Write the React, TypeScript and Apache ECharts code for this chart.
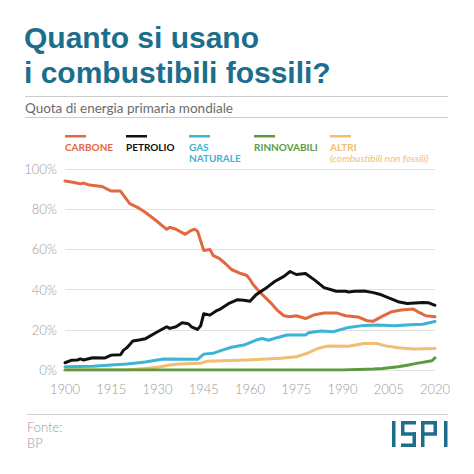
import React, { useEffect, useRef } from "react";
import * as echarts from "echarts";

const TITLE_LINES = ["Quanto si usano", "i combustibili fossili?"];
const SUBTITLE = "Quota di energia primaria mondiale";
const SOURCE_LINES = ["Fonte:", "BP"];

const X_TICKS = [1900, 1915, 1930, 1945, 1960, 1975, 1990, 2005, 2020];
const Y_TICKS = [0, 20, 40, 60, 80, 100];

const carboneYears = [1900, 1903, 1905, 1906, 1908, 1912, 1915, 1918, 1921, 1924, 1926, 1929, 1933, 1934, 1936, 1939, 1941, 1942, 1943, 1945, 1947, 1948, 1950, 1952, 1954, 1957, 1959, 1960, 1961, 1963, 1965, 1967, 1969, 1971, 1973, 1975, 1978, 1981, 1984, 1988, 1991, 1995, 1998, 2000, 2003, 2006, 2009, 2013, 2015, 2017, 2020];
const carboneValues = [94, 93.3, 92.6, 93, 92, 91.3, 89, 89, 82.8, 80.5, 78.5, 75, 70, 71, 70, 67.5, 69.5, 70, 69, 59.5, 60, 57, 55.5, 53, 50, 48, 47, 45, 42.5, 39, 36, 33, 29.5, 27, 26.5, 27, 25.6, 27.5, 28.4, 28.4, 27, 26.4, 24.5, 24.3, 26.8, 29, 29.8, 30.3, 28.5, 27, 26.5];

const petrolioYears = [1900, 1902, 1904, 1905, 1906, 1909, 1913, 1915, 1918, 1919, 1920, 1922, 1924, 1926, 1930, 1933, 1934, 1936, 1938, 1940, 1941, 1943, 1944, 1945, 1947, 1949, 1950, 1953, 1956, 1958, 1960, 1962, 1965, 1968, 1971, 1973, 1975, 1978, 1981, 1984, 1988, 1991, 1992, 1994, 1997, 2000, 2002, 2005, 2008, 2011, 2016, 2018, 2020];
const petrolioValues = [3.6, 4.8, 5, 5.5, 5, 6.1, 6, 7.4, 7.6, 9.9, 11, 14.4, 14.9, 15.5, 19, 21.5, 20.7, 21.5, 23.5, 23, 21.5, 20.2, 22, 28, 27.3, 29.4, 30, 33, 35, 34.7, 34.2, 37.5, 40.5, 44, 46.6, 49, 47.5, 48, 44.7, 41, 39.2, 39.2, 38.8, 39.2, 39.3, 38.5, 37.7, 35.9, 34, 33.1, 33.6, 33.4, 32.2];

const gasYears = [1900, 1909, 1915, 1920, 1926, 1930, 1932, 1943, 1945, 1948, 1951, 1954, 1958, 1962, 1964, 1966, 1969, 1972, 1978, 1979, 1983, 1987, 1992, 1997, 2001, 2007, 2012, 2016, 2020];
const gasValues = [1.6, 1.9, 2.5, 3, 4, 5, 5.5, 5.3, 7.9, 8.3, 9.9, 11.3, 12.4, 14.9, 15.7, 14.8, 16.2, 17.4, 17.4, 18.5, 19.4, 19, 21.2, 22.2, 22.4, 22, 22.5, 22.8, 24.1];

const rinnovabiliYears = [1900, 1990, 1995, 2000, 2003, 2008, 2011, 2014, 2019, 2020];
const rinnovabiliValues = [0, 0, 0.3, 0.5, 0.8, 1.6, 2.4, 3.3, 4.6, 6];

const altriYears = [1900, 1920, 1926, 1931, 1934, 1937, 1944, 1946, 1959, 1970, 1975, 1977, 1979, 1982, 1985, 1992, 1997, 2001, 2004, 2008, 2013, 2020];
const altriValues = [0, 0, 0.8, 1.6, 2.5, 3, 3.3, 4.4, 5, 5.8, 6.6, 7.5, 8.6, 10.7, 11.9, 11.8, 13.2, 13.2, 12, 11.1, 10.4, 10.7];

const BASE_YEAR = X_TICKS[0];

const SERIES = [
  { name: "ALTRI", years: altriYears, values: altriValues, color: "#f2bd72" },
  { name: "GAS NATURALE", years: gasYears, values: gasValues, color: "#3db3d5" },
  { name: "CARBONE", years: carboneYears, values: carboneValues, color: "#e2683f" },
  { name: "PETROLIO", years: petrolioYears, values: petrolioValues, color: "#111111" },
  { name: "RINNOVABILI", years: rinnovabiliYears, values: rinnovabiliValues, color: "#5b9a3f" },
];

const LEGEND = [
  { lines: ["CARBONE"], color: "#e2683f", x: 65 },
  { lines: ["PETROLIO"], color: "#111111", x: 126 },
  { lines: ["GAS", "NATURALE"], color: "#3db3d5", x: 189 },
  { lines: ["RINNOVABILI"], color: "#5b9a3f", x: 254 },
  { lines: ["ALTRI"], color: "#f2bd72", x: 330, note: "(combustibili non fossili)" },
];

const TEAL = "#1b6e8c";
const FONT = "Lato, 'Open Sans', sans-serif";
const TITLE_FONT = "'Liberation Sans', Arial, sans-serif";

function txt(text: string, x: number, y: number, opts: any) {
  return {
    type: "text",
    x,
    y,
    silent: true,
    style: {
      text,
      fontFamily: FONT,
      textAlign: "left",
      textVerticalAlign: "middle",
      align: "left",
      verticalAlign: "middle",
      ...opts,
    },
  };
}

function rect(x: number, y: number, w: number, h: number, fill: string) {
  return { type: "rect", shape: { x, y, width: w, height: h }, style: { fill }, silent: true };
}

export default function App() {
  const ref = useRef<HTMLDivElement>(null);
  useEffect(() => {
    if (!ref.current) return;
    const chart = echarts.init(ref.current, undefined, { renderer: "svg" });

    const graphics: any[] = [];
    graphics.push(
      txt(TITLE_LINES.join("\n"), 24, 19.5, {
        fontSize: 30,
        fontWeight: "bold",
        fontFamily: TITLE_FONT,
        fill: TEAL,
        lineHeight: 35,
        textVerticalAlign: "top",
        verticalAlign: "top",
      })
    );
    graphics.push(rect(25, 96, 423, 1, "#cccccc"));
    graphics.push(txt(SUBTITLE, 25, 107.5, { fontSize: 13.5, fill: "#6b6b6b" }));
    graphics.push(rect(25, 117, 423, 1, "#cccccc"));

    LEGEND.forEach((l) => {
      graphics.push(rect(l.x, 135, 21, 2.5, l.color));
      l.lines.forEach((line, i) => {
        graphics.push(txt(line, l.x, 146.5 + i * 11.5, { fontSize: 10, fontWeight: "bold", fill: l.color }));
      });
      if (l.note) {
        graphics.push(txt(l.note, l.x, 158, { fontSize: 10, fontStyle: "italic", fill: l.color }));
      }
    });

    graphics.push(rect(27, 414, 421, 1, "#cccccc"));
    SOURCE_LINES.forEach((s, i) => {
      graphics.push(txt(s, 27, 427 + i * 16, { fontSize: 13, fontWeight: 300, fill: "#999999" }));
    });

    // ISPI logo
    const t = 3.5;
    graphics.push(rect(392, 421, t, 26, TEAL));
    graphics.push(rect(401, 421, 15, t, TEAL));
    graphics.push(rect(401, 421, t, 13, TEAL));
    graphics.push(rect(401, 432.25, 15, t, TEAL));
    graphics.push(rect(412.5, 432.25, t, 14.75, TEAL));
    graphics.push(rect(401, 443.5, 15, t, TEAL));
    graphics.push(rect(421, 421, t, 26, TEAL));
    graphics.push(rect(421, 421, 16, t, TEAL));
    graphics.push(rect(433.5, 421, t, 13, TEAL));
    graphics.push(rect(421, 432.25, 16, t, TEAL));
    graphics.push(rect(444, 421, t, 26, TEAL));

    const span = X_TICKS[X_TICKS.length - 1] - BASE_YEAR;
    const step = X_TICKS[1] - X_TICKS[0];

    chart.setOption({
      animation: false,
      backgroundColor: "#ffffff",
      grid: { left: 65, right: 39, top: 169, bottom: 104, containLabel: false },
      xAxis: {
        type: "value",
        min: 0,
        max: span,
        interval: step,
        axisLine: { show: false },
        axisTick: { show: false },
        splitLine: { show: false },
        axisLabel: {
          formatter: (v: number) => String(v + BASE_YEAR),
          color: "#9a9a9a",
          fontSize: 13,
          fontFamily: FONT,
          fontWeight: 300,
          margin: 12,
        },
      },
      yAxis: {
        type: "value",
        min: Y_TICKS[0],
        max: Y_TICKS[Y_TICKS.length - 1],
        interval: Y_TICKS[1] - Y_TICKS[0],
        axisLine: { show: false },
        axisTick: { show: false },
        splitLine: { lineStyle: { color: "#e2e2e2", width: 1 } },
        axisLabel: {
          formatter: "{value}%",
          color: "#9a9a9a",
          fontSize: 13,
          fontFamily: FONT,
          fontWeight: 300,
          margin: 8,
        },
      },
      series: SERIES.map((s) => ({
        name: s.name,
        type: "line",
        showSymbol: false,
        symbol: "none",
        smooth: false,
        lineStyle: { color: s.color, width: 3, cap: "round", join: "round" },
        data: s.years.map((y, i) => [y - BASE_YEAR, s.values[i]]),
      })),
      graphic: graphics,
    });

    return () => chart.dispose();
  }, []);

  return (
    <div
      ref={ref}
      style={{ position: "fixed", left: 0, top: 0, width: 474, height: 474, background: "#fff" }}
    />
  );
}
